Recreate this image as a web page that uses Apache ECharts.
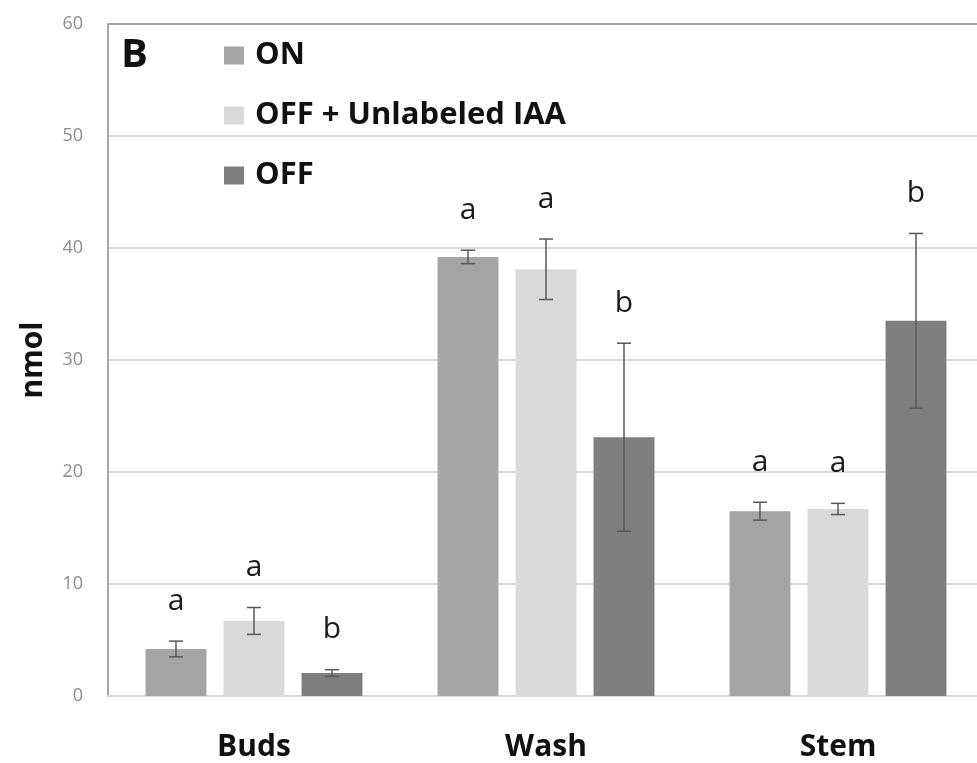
<!DOCTYPE html>
<html>
<head>
<meta charset="utf-8">
<script src="https://cdn.jsdelivr.net/npm/echarts@6/dist/echarts.min.js"></script>
<style>html,body{margin:0;padding:0;background:#fff}#c{width:977px;height:763px}</style>
</head>
<body>
<div id="c"></div>
<script>
const categories = ['Buds', 'Wash', 'Stem'];
const seriesNames = ['ON', 'OFF + Unlabeled IAA', 'OFF'];
const onValues = [4.2, 39.2, 16.5];
const offUnlabeledValues = [6.7, 38.1, 16.7];
const offValues = [2.05, 23.1, 33.5];
const onErrors = [0.7, 0.6, 0.8];
const offUnlabeledErrors = [1.2, 2.7, 0.5];
const offErrors = [0.3, 8.4, 7.8];
const onLetters = ['a', 'a', 'a'];
const offUnlabeledLetters = ['a', 'a', 'a'];
const offLetters = ['b', 'b', 'b'];
const yTicks = [0, 10, 20, 30, 40, 50, 60];

const colors = ['#a5a5a5', '#d9d9d9', '#7f7f7f'];
const values = [onValues, offUnlabeledValues, offValues];
const errors = [onErrors, offUnlabeledErrors, offErrors];
const letters = [onLetters, offUnlabeledLetters, offLetters];
const CAT_GAP = 0.257, BAR_GAP = 0.28, N = 3;

function errRender(si) {
  return function (params, api) {
    const ci = api.value(0), v = api.value(1), e = api.value(2);
    const band = api.size([1, 0])[0];
    const avail = band * (1 - CAT_GAP);
    const bw = avail / (N + (N - 1) * BAR_GAP);
    const off = -avail / 2 + si * bw * (1 + BAR_GAP) + bw / 2;
    const pc = api.coord([ci, v]);
    const x = pc[0] + off;
    const yHi = api.coord([ci, v + e])[1];
    const yLo = api.coord([ci, v - e])[1];
    const cap = 7;
    const st = { stroke: '#595959', lineWidth: 1.5 };
    return {
      type: 'group',
      children: [
        { type: 'line', shape: { x1: x, y1: yHi, x2: x, y2: yLo }, style: st },
        { type: 'line', shape: { x1: x - cap, y1: yHi, x2: x + cap, y2: yHi }, style: st },
        { type: 'line', shape: { x1: x - cap, y1: yLo, x2: x + cap, y2: yLo }, style: st },
        { type: 'text', x: x, y: yHi - 40, style: { text: letters[si][ci], fill: '#1a1a1a', font: '30px "Open Sans"', align: 'center', verticalAlign: 'middle' } }
      ]
    };
  };
}

const series = [];
for (let i = 0; i < 3; i++) {
  series.push({
    name: seriesNames[i], type: 'bar', data: values[i],
    itemStyle: { color: colors[i] },
    barCategoryGap: (CAT_GAP * 100) + '%', barGap: (BAR_GAP * 100) + '%'
  });
}
for (let i = 0; i < 3; i++) {
  series.push({
    type: 'custom', renderItem: errRender(i), z: 5,
    data: categories.map((c, k) => [k, values[i][k], errors[i][k]])
  });
}

const chart = echarts.init(document.getElementById('c'));
chart.setOption({
  animation: false,
  backgroundColor: '#fff',
  title: { text: 'B', left: 116, top: 31, textStyle: { fontFamily: 'Open Sans', fontWeight: 'bold', fontSize: 40, color: '#111' } },
  legend: {
    orient: 'vertical', left: 224, top: 40, padding: 0, itemWidth: 20, itemHeight: 18, itemGap: 29,
    icon: 'rect',
    data: seriesNames.map((n, i) => ({ name: n, itemStyle: { color: colors[i] } })),
    textStyle: { fontFamily: 'Open Sans', fontWeight: 'bold', fontSize: 31, color: '#111', padding: [0, 0, 0, 6] }
  },
  grid: { left: 108, top: 24, bottom: 67, right: -7, outerBoundsMode: 'none', containLabel: false },
  xAxis: [{
    type: 'category', data: categories,
    axisLine: { lineStyle: { color: '#d9d9d9', width: 2 } },
    axisTick: { show: false },
    axisLabel: { fontFamily: 'Open Sans', fontWeight: 'bold', fontSize: 30, color: '#111', margin: 36 }
  }, {
    type: 'category', data: categories, position: 'top',
    axisLine: { lineStyle: { color: '#a6a6a6', width: 2 } },
    axisTick: { show: false }, axisLabel: { show: false }
  }],
  yAxis: {
    type: 'value', min: yTicks[0], max: yTicks[yTicks.length - 1], interval: 10,
    name: 'nmol', nameLocation: 'middle', nameRotate: 90, nameGap: 60,
    nameTextStyle: { fontFamily: 'Open Sans', fontWeight: 'bold', fontSize: 30, color: '#111' },
    axisLine: { show: true, lineStyle: { color: '#a6a6a6', width: 2 } },
    axisTick: { show: false },
    axisLabel: { fontFamily: 'Open Sans', fontSize: 18, color: '#8c8c8c', margin: 25 },
    splitLine: { lineStyle: { color: '#d9d9d9', width: 2 } }
  },
  series: series
});
</script>
</body>
</html>
